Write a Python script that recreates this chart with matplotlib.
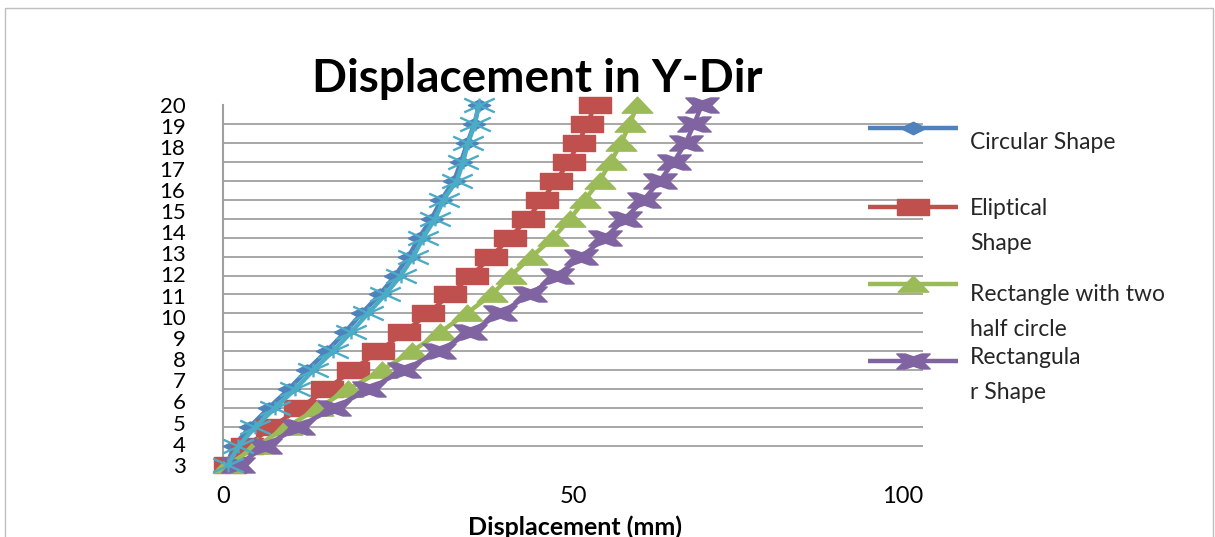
import numpy as np
import matplotlib
matplotlib.use('Agg')
import matplotlib.pyplot as plt
from matplotlib.path import Path
from matplotlib.patches import Rectangle

# Etiquetas del eje Y (niveles)
levels = list(range(3, 21))

# Desplazamiento (mm), de abajo hacia arriba
circular = [0.5, 1.6, 3.8, 6.5, 9.4, 12.0, 14.8, 17.4, 19.8, 22.4,
            24.6, 26.5, 28.0, 29.8, 31.2, 33.0, 34.0, 34.9, 35.9, 36.6]
eliptical = [1.0, 3.4, 7.0, 11.0, 14.8, 18.5, 22.2, 25.9, 29.3, 32.4,
             35.5, 38.3, 41.0, 43.5, 45.6, 47.6, 49.4, 50.8, 52.0, 53.2]
rect_half_circle = [0.7, 4.8, 9.1, 13.6, 17.9, 22.7, 27.0, 31.0, 34.8, 38.4,
                    41.1, 44.1, 47.2, 49.6, 51.7, 53.8, 55.4, 56.9, 58.1, 59.2]
rectangular = [2.2, 6.0, 10.7, 15.8, 20.8, 25.8, 30.8, 35.3, 39.6, 43.8,
               47.7, 51.2, 54.6, 57.4, 60.1, 62.4, 64.4, 66.1, 67.3, 68.4]
series5 = [0.7, 2.2, 4.6, 7.4, 10.3, 12.9, 15.7, 18.3, 20.7, 23.2,
           25.4, 27.2, 28.6, 30.3, 31.5, 33.4, 34.3, 35.0, 36.0, 36.5]

legend_names = ['Circular Shape', 'Eliptical\nShape',
                'Rectangle with two\nhalf circle', 'Rectangula\nr Shape']
colors = ['#4F81BD', '#C0504D', '#9BBB59', '#8064A2', '#4BACC6']

plt.rcParams['font.family'] = ['Lato', 'DejaVu Sans']

# Marcadores anchos (estilo Excel estirado)
diamond = Path([(-1, 0), (0, 0.5), (1, 0), (0, -0.5), (-1, 0)], closed=True)
square = Path([(-1, -0.53), (1, -0.53), (1, 0.53), (-1, 0.53), (-1, -0.53)], closed=True)
triangle = Path([(-1, -0.5), (1, -0.5), (0, 0.55), (-1, -0.5)], closed=True)
bowtie = Path([(-1, 0.45), (-0.5, 0.45), (0, 0.28), (0.5, 0.45), (1, 0.45), (0.55, 0),
               (1, -0.45), (0.5, -0.45), (0, -0.28), (-0.5, -0.45), (-1, -0.45),
               (-0.55, 0), (-1, 0.45)], closed=True)
star = Path([(-1, -0.45), (1, 0.45), (-1, 0.45), (1, -0.45), (0, -0.45), (0, 0.45)],
            [Path.MOVETO, Path.LINETO, Path.MOVETO, Path.LINETO, Path.MOVETO, Path.LINETO])

markers = [diamond, square, triangle, bowtie, star]
sizes = [16, 23, 22, 24, 22]

fig = plt.figure(figsize=(12.15, 5.37), dpi=100)

ax = fig.add_axes([223 / 1215, 72 / 537, 700 / 1215, 360 / 537])

# Capa auxiliar en pixeles para marco y leyenda (encima del grafico)
ov = fig.add_axes([0, 0, 1, 1], zorder=5)
ov.set_xlim(0, 1215)
ov.set_ylim(537, 0)
ov.axis('off')
ov.add_patch(Rectangle((4.5, 7.5), 1208, 540, fill=False, ec='#BFBFBF', lw=1))

idx = np.arange(len(circular))

all_series = [circular, eliptical, rect_half_circle, rectangular, series5]
for vals, col, mk, ms in zip(all_series, colors, markers, sizes):
    if mk is star:
        ax.plot(vals, idx, color=col, lw=3.2, marker=mk, ms=ms, mec=col,
                mfc='none', mew=1.7, clip_on=False, zorder=3)
    else:
        ax.plot(vals, idx, color=col, lw=3.2, marker=mk, ms=ms, mec=col,
                mfc=col, clip_on=False, zorder=3)

ax.set_xlim(0, 100)
ax.set_ylim(0, idx[-1])
ax.set_axisbelow(True)

# Lineas de division en cada punto, etiquetas 3..20 repartidas
ax.set_yticks(idx, minor=True)
ax.set_yticks(np.linspace(0, idx[-1], len(levels)), [str(v) for v in levels])
ax.grid(which='minor', axis='y', color='#A0A0A0', lw=1.3)
ax.tick_params(axis='y', which='both', length=0, pad=27, labelsize=16)

ax.set_xticks([0, 50, 100])
ax.tick_params(axis='x', length=0, pad=15, labelsize=17)
ax.get_xticklabels()[-1].set_ha('right')

for s in ['top', 'right', 'bottom']:
    ax.spines[s].set_visible(False)
ax.spines['left'].set_color('#A0A0A0')
ax.spines['left'].set_linewidth(1.5)

fig.text(537 / 1215, 1 - 92 / 537, 'Displacement in Y-Dir', fontsize=33,
         fontweight='bold', ha='center', va='baseline')
fig.text(575 / 1215, 1 - 535 / 537, 'Displacement (mm)', fontsize=18,
         fontweight='bold', ha='center', va='baseline')

# Leyenda manual
handle_y = [128, 207, 284, 361]
text_top = [132, 198, 284, 347]
for name, col, mk, ms, hy, ty in zip(legend_names, colors, markers, sizes, handle_y, text_top):
    ov.plot([868, 958], [hy, hy], color=col, lw=3.2, solid_capstyle='butt')
    ov.plot([913], [hy], marker=mk, ms=ms + 2 if mk is diamond else ms,
            color=col, mec=col, mfc=col)
    ov.text(970, ty, name, fontsize=16.5, va='top', ha='left',
            linespacing=1.85, color='#262626')

fig.savefig('out.png', dpi=100)
